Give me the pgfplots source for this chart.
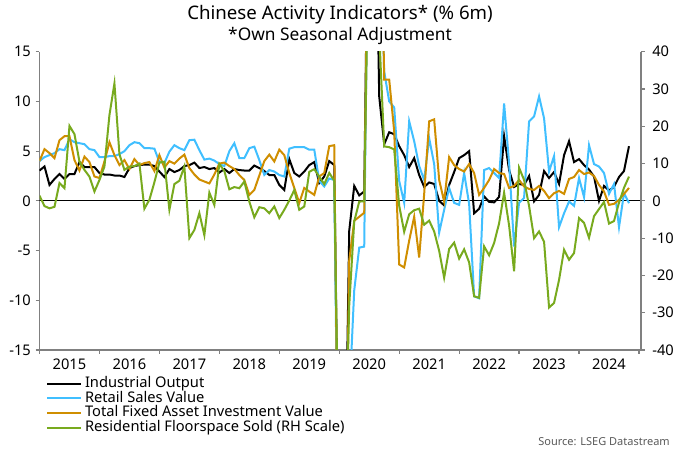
\documentclass[border=0pt]{standalone}
\usepackage{pgfplots}
\usepackage{pgfplotstable}
\usepackage{fontspec}
\setmainfont{Noto Sans}
\pgfplotsset{compat=1.18}
\definecolor{rsblue}{HTML}{40BFFF}
\definecolor{faiorange}{HTML}{CF8E00}
\definecolor{rfsgreen}{HTML}{78AA1E}
\definecolor{axgray}{HTML}{808080}
\definecolor{srcgray}{HTML}{595959}

\pgfplotstableread{
i io rs fai rfs
0 3.05 4.0 4.0 1.4
1 3.46 4.4 5.2 -1.4
2 1.6 4.6 4.8 -2.0
3 2.2 4.8 4.3 -1.6
4 2.7 5.2 6.1 4.8
5 2.2 5.1 6.5 3.4
6 2.7 6.2 6.5 20.1
7 2.7 5.9 4.1 17.9
8 3.9 5.8 3.05 10.5
9 3.4 5.7 4.45 8.3
10 3.4 5.2 3.9 6.5
11 3.4 5.1 2.45 2.5
12 2.8 4.4 2.3 5.6
13 2.65 4.4 3.96 9.2
14 2.65 4.5 5.9 23
15 2.55 4.5 4.6 31.5
16 2.55 4.7 3.6 12.5
17 2.4 5.0 4.1 8.3
18 3.3 5.6 3.2 9.2
19 3.5 5.9 4.2 9.3
20 3.6 5.8 3.6 10.0
21 3.65 5.3 3.8 -2.1
22 3.65 5.3 3.9 0.3
23 3.5 5.25 3.0 5.0
24 2.95 3.9 4.6 10.3
25 2.4 3.8 3.35 10.5
26 3.2 4.95 4.0 -2.4
27 2.9 5.6 3.75 4.5
28 3.1 5.3 4.25 5.4
29 3.5 5.1 4.65 9.2
30 3.6 6.1 3.3 -10
31 3.85 6.15 2.65 -7.8
32 3.3 5.1 2.15 -3.3
33 3.4 4.15 1.95 -9.2
34 3.2 4.25 1.75 2.2
35 3.3 4.05 2.65 -1.1
36 2.85 3.7 3.75 9.9
37 3.2 3.5 3.85 8.0
38 2.8 5.0 3.5 3.1
39 3.2 5.8 3.2 3.7
40 3.1 4.3 2.6 3.4
41 3.05 4.3 2.1 5.2
42 3.05 5.3 0.6 -0.2
43 3.55 5.45 1.1 -4.4
44 3.3 4.1 2.55 -1.7
45 3.0 2.6 4.0 -2.0
46 2.6 3.1 4.65 -3.3
47 2.6 2.95 3.96 -1.5
48 1.6 2.6 5.15 -4.6
49 1.1 2.45 4.6 -2.4
50 4.2 5.25 2.8 0.1
51 2.8 5.4 1.3 2.9
52 2.45 5.4 -0.2 -2.4
53 2.95 5.4 1.3 -1.5
54 3.6 5.15 0.94 7.8
55 3.9 5.15 0.6 8.5
56 1.8 2.0 2.45 6.5
57 2.45 1.45 2.8 4.5
58 4.0 2.25 5.5 7.5
59 3.6 2.1 5.6 5.4
60 -35 -40 -40 -80
61 -35 -40 -40 -80
62 -3.0 -20 -6 -28
63 1.5 -9.0 -2.0 -5.5
64 0.55 -4.7 -1.6 -0.2
65 0.95 -4.6 -1.2 -0.1
66 40 40 40 80
67 40 40 40 80
68 10.5 30 40 45
69 5.7 13 12.2 14.6
70 6.9 10 12.2 14.4
71 6.7 9.4 7.0 13.8
72 5.5 2.0 -6.4 -1.3
73 4.6 -0.2 -6.7 -8.3
74 3.4 8.0 -4.0 -3.6
75 4.3 6.0 -1.6 -2.5
76 2.6 3.5 -5.7 -2.1
77 1.4 2.1 0.7 -6.4
78 1.85 6.3 8.0 -5.3
79 1.7 3.7 8.2 -8.2
80 0 -3.2 2.1 -13.4
81 -0.45 -0.9 -0.07 -20.6
82 1.6 1.3 4.4 -12.9
83 2.9 -0.2 3.6 -11.2
84 4.3 -0.4 3.2 -15.5
85 4.6 2.8 2.95 -13.0
86 5.0 -0.3 3.7 -16.5
87 -1.25 -9.6 2.8 -25.6
88 -0.8 -9.8 0.6 -26.0
89 0.45 3.1 1.3 -12.2
90 -0.1 3.3 2.1 -14.6
91 -0.15 2.8 3.2 -11.3
92 0.4 2.3 2.8 -6.0
93 6.5 9.8 2.7 2.2
94 3.1 3.8 1.3 -6.6
95 1.4 -4.6 1.5 -18.9
96 1.7 -0.2 2.1 8.9
97 1.6 0.3 1.45 5.6
98 2.5 8.0 1.2 -1.4
99 -0.05 8.5 1.1 -10
100 0.6 10.5 1.5 -8.2
101 3.0 8.3 1.0 -11.0
102 2.3 2.95 0.27 -28.6
103 2.9 4.5 0.77 -27.4
104 1.7 -2.65 1.0 -21.2
105 4.6 -1.25 0.7 -13.1
106 6.0 -0.07 2.2 -15.8
107 3.9 -0.5 2.4 -14.0
108 4.2 2.3 3.1 -4.6
109 3.6 0.37 2.7 -5.9
110 3.15 5.6 2.85 -9.9
111 2.45 3.7 2.5 -4.1
112 0 3.45 1.6 -2.2
113 1.5 2.8 0.94 -0.3
114 1.05 0.7 -0.4 -6.1
115 1.4 1.7 -0.3 -5.4
116 2.4 -2.65 0.1 -0.5
117 3.0 0.77 0.7 3.5
118 5.5 -0.23 1.3 6.5
}\chinadata

\pgfplotsset{
  common/.style={
    scale only axis, width=451.1pt, height=223.7pt,
    at={(29.625pt,77.25pt)}, anchor=south west,
    xmin=2015, xmax=2025.033,
    axis line style={draw=axgray, line width=1.2pt},
    tick style={draw=axgray, line width=0.9pt},
    tick align=outside,
    major tick length=3pt, minor tick length=3pt,
    tick label style={font=\fontsize{11}{13}\selectfont},
    clip=true,
  }
}

\begin{document}
\begin{tikzpicture}
\useasboundingbox (0,0) rectangle (510pt,339.75pt);
\begin{axis}[common,
  ymin=-15, ymax=15,
  axis x line*=bottom, axis y line*=left,
  ytick={-15,-10,-5,0,5,10,15},
  yticklabels={-15,-10,-5,0,5,10,15},
  xtick={2015.5,2016.5,2017.5,2018.5,2019.5,2020.5,2021.5,2022.5,2023.5,2024.5},
  xticklabels={2015,2016,2017,2018,2019,2020,2021,2022,2023,2024},
  major x tick style={draw=none},
  minor xtick={2015,2016,2017,2018,2019,2020,2021,2022,2023,2024,2025},
  legend style={
    at={(0.0105,-0.0897)}, anchor=north west,
    draw=none, fill=none, inner sep=0pt, row sep=0.5pt,
    font=\fontsize{11}{13}\selectfont,
    nodes={inner sep=0pt, text height=8pt, text depth=2.4pt},
    /tikz/every odd column/.append style={column sep=2.2pt},
  },
  legend cell align=left,
  legend image code/.code={\draw[#1, line width=1.5pt] (0pt,0pt) -- (25.5pt,0pt);},
]
\addplot[black, line width=0.75pt, forget plot] coordinates {(2015,0) (2025.033,0)};
\addplot[black, line width=1.5pt] table[x expr=2015+\thisrow{i}/12, y=io] {\chinadata};
\addlegendentry{Industrial Output}
\addplot[rsblue, line width=1.5pt] table[x expr=2015+\thisrow{i}/12, y=rs] {\chinadata};
\addlegendentry{Retail Sales Value}
\addplot[faiorange, line width=1.5pt] table[x expr=2015+\thisrow{i}/12, y=fai] {\chinadata};
\addlegendentry{Total Fixed Asset Investment Value}
\addlegendimage{rfsgreen, line width=1.5pt}
\addlegendentry{Residential Floorspace Sold (RH Scale)}
\end{axis}
\begin{axis}[common,
  ymin=-40, ymax=40,
  axis x line=none, axis y line*=right,
  ytick={-40,-30,-20,-10,0,10,20,30,40},
  yticklabels={-40,-30,-20,-10,0,10,20,30,40},
  yticklabel style={xshift=2pt},
]
\addplot[rfsgreen, line width=1.5pt] table[x expr=2015+\thisrow{i}/12, y=rfs] {\chinadata};
\end{axis}
\node[anchor=base, inner sep=0pt, font=\fontsize{14}{17}\selectfont] at (255pt,324.75pt) {Chinese Activity Indicators* (\% 6m)};
\node[anchor=base, inner sep=0pt, font=\fontsize{13}{15}\selectfont] at (255pt,309pt) {*Own Seasonal Adjustment};
\node[anchor=base east, inner sep=0pt, text=srcgray, font=\fontsize{8.25}{10}\selectfont] at (502.5pt,6pt) {Source: LSEG Datastream};
\end{tikzpicture}
\end{document}
